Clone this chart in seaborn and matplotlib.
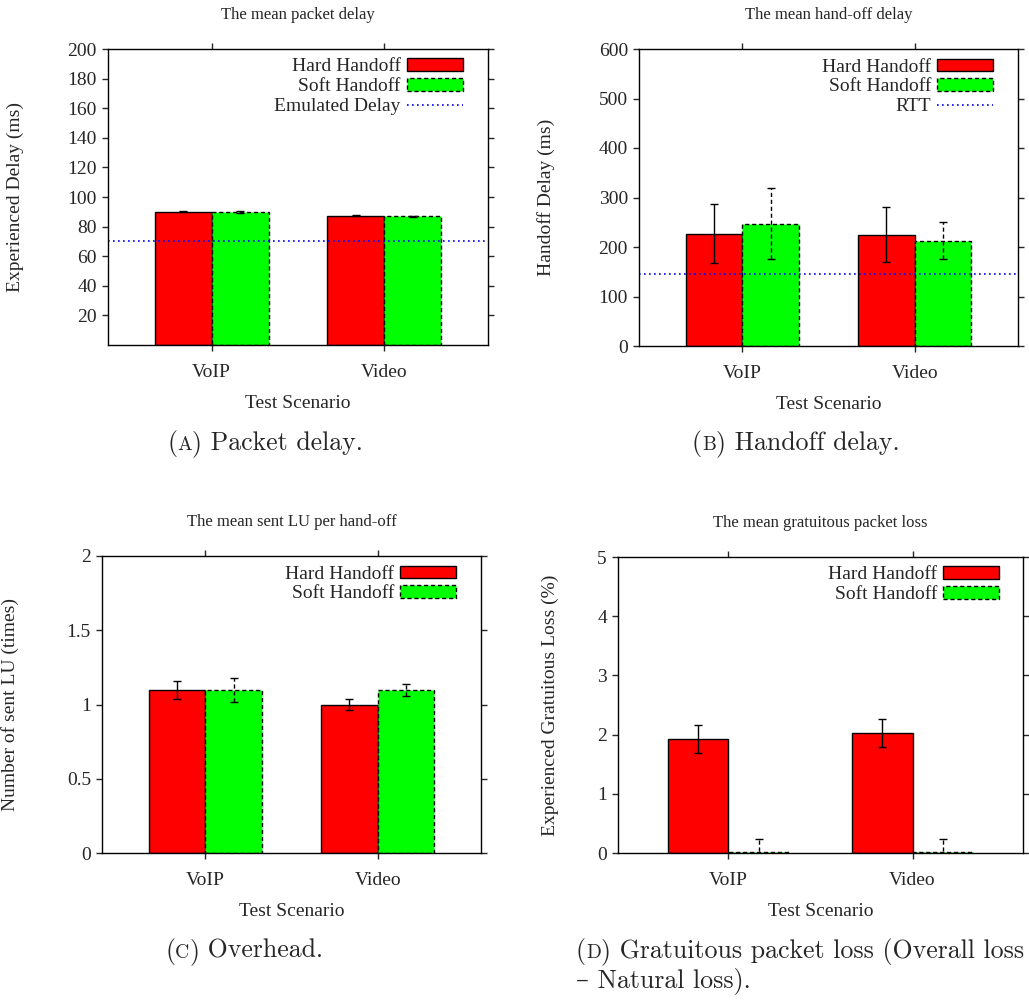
import pandas as pd
import matplotlib
matplotlib.use('Agg')
import matplotlib.pyplot as plt
import seaborn as sns
from matplotlib.patches import Patch
from matplotlib.lines import Line2D

sns.set_style('ticks')
plt.rcParams['font.family'] = ['Liberation Serif', 'DejaVu Serif']

W, H = 1029, 1001
RED, GREEN, BLUE = '#ff0000', '#00ff00', '#0000ff'
DASH = (0, (3, 2))
DOT = (0, (1, 2))

scenarios = ['VoIP', 'Video']
handoffs = ['Hard Handoff', 'Soft Handoff']

# (a) packet delay
delay_hard = [90.0, 87.5]
delay_soft = [90.0, 87.0]
delay_hard_err = [0.4, 0.5]
delay_soft_err = [0.5, 0.4]
emulated_delay = 70.5

# (b) handoff delay
handoff_hard = [227, 225]
handoff_soft = [247, 213]
handoff_hard_err = [59, 55]
handoff_soft_err = [72, 38]
rtt = 145

# (c) sent LU per hand-off
lu_hard = [1.1, 1.0]
lu_soft = [1.1, 1.1]
lu_hard_err = [0.06, 0.04]
lu_soft_err = [0.08, 0.04]

# (d) gratuitous packet loss
loss_hard = [1.93, 2.03]
loss_soft = [0.02, 0.02]
loss_hard_err = [0.24, 0.24]
loss_soft_err = [0.22, 0.22]

fig = plt.figure(figsize=(W / 100, H / 100), dpi=100)


def axes_px(l, t, r, b):
    return fig.add_axes([l / W, 1 - b / H, (r - l) / W, (b - t) / H])


def panel(ax, hard, soft, hard_err, soft_err, title, ylabel, yticks, ylim,
          ylab_x, line=None, line_label=None, leg_x=0.935, ticklabels=None):
    df = pd.DataFrame({'scenario': scenarios * 2,
                       'handoff': [handoffs[0]] * 2 + [handoffs[1]] * 2,
                       'value': hard + soft})
    sns.barplot(data=df, x='scenario', y='value', hue='handoff',
                order=scenarios, hue_order=handoffs, palette=[RED, GREEN],
                saturation=1, width=0.66, errorbar=None, edgecolor='black',
                linewidth=1, legend=False, ax=ax)
    # error bars: solid for hard handoff, dashed for soft handoff
    for cont, errs, ls in zip(ax.containers, [hard_err, soft_err], ['-', DASH]):
        xs = [p.get_x() + p.get_width() / 2 for p in cont]
        ys = [p.get_height() for p in cont]
        for p in cont:
            p.set_linestyle(ls)
        eb = ax.errorbar(xs, ys, yerr=errs, fmt='none', ecolor='black',
                         elinewidth=1, capsize=3, capthick=1)
        eb[2][0].set_linestyle(ls)

    handles = [Patch(facecolor=RED, edgecolor='black', linewidth=1),
               Patch(facecolor=GREEN, edgecolor='black', linewidth=1, linestyle=DASH)]
    labels = list(handoffs)
    if line is not None:
        ax.axhline(line, color=BLUE, linestyle=DOT, linewidth=1.2)
        handles.append(Line2D([], [], color=BLUE, linestyle=DOT, linewidth=1.2))
        labels.append(line_label)
    ax.legend(handles, labels, loc='upper right', bbox_to_anchor=(leg_x, 0.968),
              frameon=False, markerfirst=False, fontsize=14, handlelength=2.9,
              handleheight=0.6, handletextpad=0.3, labelspacing=0.15,
              borderpad=0, borderaxespad=0)

    ax.set_xlim(-0.6, 1.6)
    ax.set_ylim(*ylim)
    ax.set_yticks(yticks)
    if ticklabels is not None:
        ax.set_yticklabels(ticklabels)
    ax.set_xlabel('Test Scenario', fontsize=14)
    ax.set_ylabel(ylabel, fontsize=14)
    ax.xaxis.set_label_coords(0.5, -0.17)
    ax.yaxis.set_label_coords(ylab_x, 0.5)
    ax.text(0.5, 1.1, title, transform=ax.transAxes, ha='center',
            va='baseline', fontsize=12)
    ax.tick_params(axis='both', direction='out', length=4, width=1,
                   right=True, top=True, labelsize=14)
    ax.tick_params(axis='x', pad=10)
    ax.tick_params(axis='y', pad=4)
    for s in ax.spines.values():
        s.set_visible(True)
        s.set_linewidth(1)
        s.set_color('black')


def caption(x, y, letter, lines, size=18.6):
    # "(A) text" with a small-caps letter, pieces chained left to right
    fx, fy = x / W, 1 - y / H
    kw = dict(family=['cmr10', 'DejaVu Serif'], va='baseline')
    t1 = fig.text(fx, fy, '(', fontsize=size, **kw)
    t2 = fig.add_artist(plt.Annotation(letter, xy=(1, fy), xycoords=(t1, 'figure fraction'),
                                       fontsize=size * 0.76, **kw))
    t3 = fig.add_artist(plt.Annotation(')', xy=(1, fy), xycoords=(t2, 'figure fraction'),
                                       fontsize=size, **kw))
    fig.add_artist(plt.Annotation(' ' + lines[0], xy=(1, fy), xycoords=(t3, 'figure fraction'),
                                  fontsize=size, **kw))
    for i, extra in enumerate(lines[1:], start=1):
        fig.text(fx, 1 - (y + 29.5 * i) / H, extra, fontsize=size, **kw)


ax_a = axes_px(108, 49, 488, 345)
panel(ax_a, delay_hard, delay_soft, delay_hard_err, delay_soft_err,
      'The mean packet delay', 'Experienced Delay (ms)',
      list(range(20, 201, 20)), (0, 200), -0.22,
      line=emulated_delay, line_label='Emulated Delay', leg_x=0.934)

ax_b = axes_px(639, 49, 1018, 346)
panel(ax_b, handoff_hard, handoff_soft, handoff_hard_err, handoff_soft_err,
      'The mean hand-off delay', 'Handoff Delay (ms)',
      list(range(0, 601, 100)), (0, 600), -0.222,
      line=rtt, line_label='RTT', leg_x=0.935)

ax_c = axes_px(102, 556, 481, 853)
panel(ax_c, lu_hard, lu_soft, lu_hard_err, lu_soft_err,
      'The mean sent LU per hand-off', 'Number of sent LU (times)',
      [0, 0.5, 1, 1.5, 2], (0, 2), -0.218, leg_x=0.935,
      ticklabels=['0', '0.5', '1', '1.5', '2'])

ax_d = axes_px(618, 557, 1023, 853)
panel(ax_d, loss_hard, loss_soft, loss_hard_err, loss_soft_err,
      'The mean gratuitous packet loss', 'Experienced Gratuitous Loss (%)',
      [0, 1, 2, 3, 4, 5], (0, 5), -0.145, leg_x=0.941)

caption(167, 450, 'A', ['Packet delay.'])
caption(692, 450, 'B', ['Handoff delay.'])
caption(165, 958, 'C', ['Overhead.'])
caption(576, 958, 'D', ['Gratuitous packet loss (Overall loss', '– Natural loss).'])

fig.savefig('out.png', dpi=100)
